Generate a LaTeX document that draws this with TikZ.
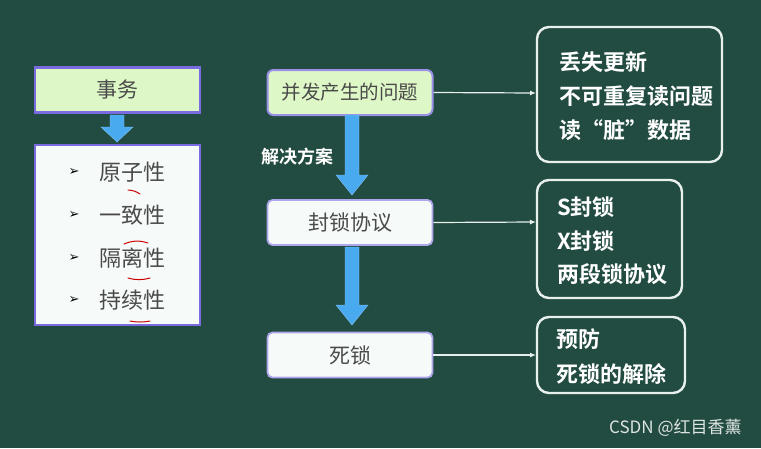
\documentclass[tikz,border=0pt]{standalone}
\usepackage{fontspec}
\setmainfont{Noto Sans CJK SC}
\newfontfamily\cjk{Noto Sans CJK SC}
\newfontfamily\cjkb{Noto Sans CJK SC Bold}
\usetikzlibrary{arrows.meta,calc}
\definecolor{bg}{HTML}{224C41}
\definecolor{lgreen}{HTML}{DDF7C6}
\definecolor{wbox}{HTML}{F6FBFA}
\definecolor{edgev}{HTML}{7A6BE0}
\definecolor{txtg}{HTML}{4A4A4A}
\definecolor{ablue}{HTML}{4AAAF0}
\definecolor{lnw}{HTML}{E8F0EE}
\tikzset{
  topbox/.style={draw=edgev, line width=2.5pt, fill=lgreen, minimum width=165pt, minimum height=45pt, font=\cjk\fontsize{21}{24}\selectfont, text=txtg},
  midbox/.style={draw=edgev!60, line width=1.8pt, rounded corners=5pt, minimum width=165pt, minimum height=45pt, font=\cjk\fontsize{21}{24}\selectfont, text=txtg},
  outbox/.style={draw=lnw, line width=2.4pt, rounded corners=12pt},
  outtxt/.style={text=white, font=\cjkb\fontsize{22}{25}\selectfont, anchor=west, inner sep=0pt},
  conn/.style={draw=lnw, line width=1.2pt, -{Latex[length=6pt,width=5pt]}},
  bigarrow/.style={fill=ablue, draw=ablue!70!white, line width=0.4pt},
  redmark/.style={draw=red!80!black, line width=1pt, line cap=round},
  bul/.style={font=\fontsize{13}{13}\selectfont, text=black, inner sep=0pt},
  ptxt/.style={font=\cjk\fontsize{22}{25}\selectfont, text=txtg, anchor=west, inner sep=0pt}
}
\begin{document}
\begin{tikzpicture}[x=1pt,y=-1pt]
\fill[bg] (0,0) rectangle (761,448);
\useasboundingbox (0,0) rectangle (761,448);

% left column
\node[topbox] (sw) at (117.5,90) {事务};
\node[draw=edgev, line width=2.5pt, fill=wbox, minimum width=165pt, minimum height=180pt] (props) at (117.5,235) {};
\path[bigarrow] (110,115) -- (124,115) -- (124,127) -- (133,127) -- (117,142) -- (101,127) -- (110,127) -- cycle;
\foreach \y/\t [count=\i] in {172/原子性,215/一致性,258/隔离性,300/持续性}{
  \node[bul] (b\i) at (74,\y) {\fontspec{DejaVu Sans}➢};
  \node[ptxt] (p\i) at (99,\y) {\t};
}
\draw[redmark] (128,190) to[bend left=15] (140,194);
\draw[redmark] (124,244) to[bend left=20] (148,243);
\draw[redmark] (128,278) to[bend right=15] (150,278);
\draw[redmark] (130,321) to[bend right=10] (150,321);

% middle column
\node[topbox, draw=edgev!75, line width=2pt, rounded corners=6pt, font=\cjk\fontsize{19.5}{22}\selectfont] (q) at (350,92.5) {并发产生的问题};
\node[midbox, fill=wbox] (lk) at (350,222.5) {封锁协议};
\node[midbox, fill=wbox] (dl) at (350,355) {死锁};
\path[bigarrow] (345,115) -- (359,115) -- (359,175) -- (368,175) -- (352,195) -- (336,175) -- (345,175) -- cycle;
\path[bigarrow] (345,247) -- (359,247) -- (359,305) -- (368,305) -- (352,325) -- (336,305) -- (345,305) -- cycle;
\node[text=white, font=\cjkb\fontsize{18}{21}\selectfont, inner sep=0pt] (sol) at (297,157) {解决方案};

% right boxes
\draw[outbox] (537,27) rectangle (722,162);
\node[outtxt] (r11) at (559,62) {丢失更新};
\node[outtxt] (r12) at (559,96) {不可重复读问题};
\node[outtxt] (r13) at (559,130) {读“脏”数据};
\draw[outbox] (537,180) rectangle (682,298);
\node[outtxt] (r21) at (557,207) {S封锁};
\node[outtxt] (r22) at (557,241) {X封锁};
\node[outtxt] (r23) at (557,274) {两段锁协议};
\draw[outbox] (537,317) rectangle (685,393);
\node[outtxt] (r31) at (556,339) {预防};
\node[outtxt] (r32) at (556,374) {死锁的解除};
\coordinate (t1) at (536,93);
\coordinate (t2) at (536,222);
\coordinate (t3) at (536,355);
\draw[conn] (q.east) -- (t1);
\draw[conn] (lk.east) -- (t2);
\draw[conn] (dl.east) -- (t3);

\node[text=white!85!bg, font=\cjk\fontsize{17}{20}\selectfont, anchor=west, inner sep=0pt] (wm) at (609,428) {CSDN @红目香薰};
\end{tikzpicture}
\end{document}
